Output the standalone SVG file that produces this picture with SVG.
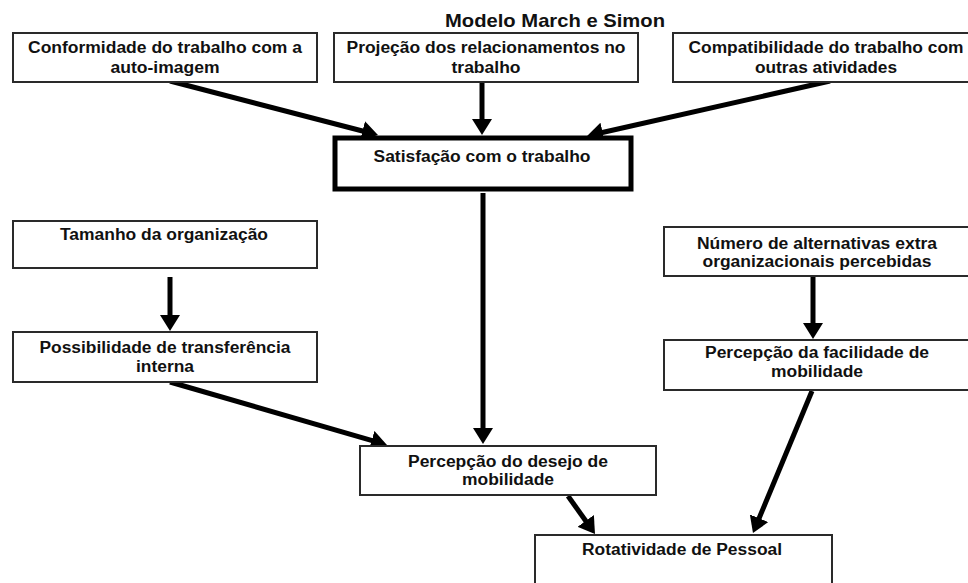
<svg xmlns="http://www.w3.org/2000/svg" width="968" height="583" viewBox="0 0 968 583">
  <style>
    .box { fill: #ffffff; stroke: #2a2a2a; stroke-width: 2; }
    .box-strong { fill: #ffffff; stroke: #000000; stroke-width: 5; }
    .t { font-family: "Liberation Sans", Arial, sans-serif; font-weight: bold; font-size: 16px; fill: #111111; text-anchor: middle; }
    .title { font-family: "Liberation Sans", Arial, sans-serif; font-weight: bold; font-size: 18.5px; fill: #111111; text-anchor: middle; }
    .conn { stroke: #000000; stroke-width: 5; fill: none; marker-end: url(#head); }
  </style>
  <defs>
    <!-- filled triangular arrowhead, tip 10px beyond the line end -->
    <marker id="head" viewBox="0 0 16 20" refX="6" refY="10" markerWidth="16" markerHeight="20" markerUnits="userSpaceOnUse" orient="auto">
      <path d="M0,0 L16,10 L0,20 z" fill="#000000"/>
    </marker>
  </defs>

  <rect width="968" height="583" fill="#ffffff"/>

  <text class="title" x="555" y="27" textLength="220" lengthAdjust="spacingAndGlyphs">Modelo March e Simon</text>

  <!-- connectors -->
  <g id="connectors">
    <line class="conn" x1="170" y1="81" x2="368.3" y2="132.5"/>
    <line class="conn" x1="482" y1="82" x2="482" y2="125"/>
    <line class="conn" x1="830" y1="81" x2="596.8" y2="133.8"/>
    <line class="conn" x1="483" y1="193" x2="483" y2="434"/>
    <line class="conn" x1="170" y1="277" x2="170" y2="321"/>
    <line class="conn" x1="170" y1="382" x2="377.4" y2="442.2"/>
    <line class="conn" x1="813" y1="276" x2="813" y2="329"/>
    <line class="conn" x1="812" y1="391" x2="756.8" y2="523.8"/>
    <line class="conn" x1="568" y1="496" x2="589.2" y2="525.8"/>
  </g>

  <g id="conformidade">
    <rect class="box" x="13" y="33" width="304" height="49"/>
    <text class="t" x="165" y="53" textLength="274" lengthAdjust="spacingAndGlyphs">Conformidade do trabalho com a</text>
    <text class="t" x="165" y="73" textLength="109" lengthAdjust="spacingAndGlyphs">auto-imagem</text>
  </g>

  <g id="projecao">
    <rect class="box" x="334" y="33" width="304" height="49"/>
    <text class="t" x="486" y="53" textLength="279" lengthAdjust="spacingAndGlyphs">Projeção dos relacionamentos no</text>
    <text class="t" x="486" y="73" textLength="69" lengthAdjust="spacingAndGlyphs">trabalho</text>
  </g>

  <g id="compatibilidade">
    <rect class="box" x="673" y="33" width="300" height="49"/>
    <text class="t" x="826" y="53" textLength="275" lengthAdjust="spacingAndGlyphs">Compatibilidade do trabalho com</text>
    <text class="t" x="826" y="73" textLength="142" lengthAdjust="spacingAndGlyphs">outras atividades</text>
  </g>

  <g id="satisfacao">
    <rect class="box-strong" x="335" y="138" width="296" height="51"/>
    <text class="t" x="482" y="162" textLength="217" lengthAdjust="spacingAndGlyphs">Satisfação com o trabalho</text>
  </g>

  <g id="tamanho">
    <rect class="box" x="13" y="221" width="304" height="47"/>
    <text class="t" x="164" y="240" textLength="208" lengthAdjust="spacingAndGlyphs">Tamanho da organização</text>
  </g>

  <g id="possibilidade">
    <rect class="box" x="13" y="332" width="304" height="50"/>
    <text class="t" x="165" y="353" textLength="251" lengthAdjust="spacingAndGlyphs">Possibilidade de transferência</text>
    <text class="t" x="165" y="372" textLength="58" lengthAdjust="spacingAndGlyphs">interna</text>
  </g>

  <g id="numero">
    <rect class="box" x="664" y="227" width="309" height="49"/>
    <text class="t" x="817" y="249" textLength="240" lengthAdjust="spacingAndGlyphs">Número de alternativas extra</text>
    <text class="t" x="817" y="267" textLength="229" lengthAdjust="spacingAndGlyphs">organizacionais percebidas</text>
  </g>

  <g id="facilidade">
    <rect class="box" x="664" y="340" width="309" height="50"/>
    <text class="t" x="817" y="358" textLength="224" lengthAdjust="spacingAndGlyphs">Percepção da facilidade de</text>
    <text class="t" x="817" y="377" textLength="92" lengthAdjust="spacingAndGlyphs">mobilidade</text>
  </g>

  <g id="desejo">
    <rect class="box" x="360" y="446" width="296" height="49"/>
    <text class="t" x="508" y="467" textLength="200" lengthAdjust="spacingAndGlyphs">Percepção do desejo de</text>
    <text class="t" x="508" y="485" textLength="92" lengthAdjust="spacingAndGlyphs">mobilidade</text>
  </g>

  <g id="rotatividade">
    <rect class="box" x="535" y="535" width="297" height="60"/>
    <text class="t" x="682" y="555" textLength="200" lengthAdjust="spacingAndGlyphs">Rotatividade de Pessoal</text>
  </g>
</svg>
